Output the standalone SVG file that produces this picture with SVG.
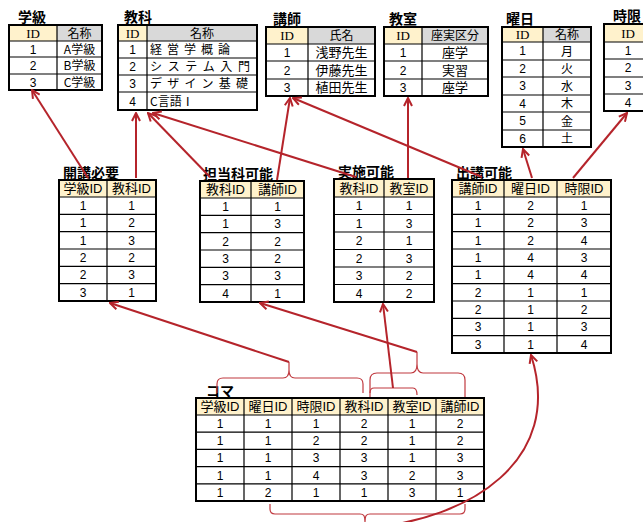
<svg xmlns="http://www.w3.org/2000/svg" width="643" height="522" viewBox="0 0 643 522">
<style>
.t{font-family:"Noto Sans CJK JP",sans-serif;font-weight:bold;font-size:14px;fill:#000}
.c{font-family:"Liberation Sans","Noto Sans CJK JP",sans-serif;font-size:12px;text-anchor:middle;fill:#000}
.j{font-family:"Noto Sans CJK JP",sans-serif;font-size:12px;fill:#000}
.jm{font-family:"Noto Sans CJK JP",sans-serif;font-size:13px;text-anchor:middle;fill:#000}
.js{font-family:"Noto Sans CJK JP",sans-serif;font-size:12px;text-anchor:middle;fill:#000}
.h{font-family:"Liberation Sans","Noto Sans CJK JP",sans-serif;font-size:13px;text-anchor:middle;fill:#000}
.id{font-family:"Liberation Serif",serif;font-size:13px;text-anchor:middle;fill:#000}
.hy{fill:#fff2cc}
.hg{fill:#d9d9d9}
.grid{fill:none;stroke:#000;stroke-width:1.2}
.box{fill:none;stroke:#000;stroke-width:2}
.conn{fill:none;stroke:#b5242b;stroke-width:2;marker-end:url(#arr)}
.brace{fill:none;stroke:#c0393f;stroke-width:1.2}
</style>
<defs>
<marker id="arr" viewBox="0 0 10 10" refX="9" refY="5" markerWidth="10" markerHeight="10" markerUnits="userSpaceOnUse" orient="auto">
<path d="M1,1 L9,5 L1,9" fill="none" stroke="#b5242b" stroke-width="2"/>
</marker>
</defs>

<g id="gakkyu">
<text class="t" x="18" y="22">学級</text>
<rect class="hy" x="9" y="25" width="48" height="16"/>
<rect class="hg" x="57" y="25" width="45" height="16"/>
<path class="grid" d="M9,41H102M9,57H102M9,74H102M57,25V90"/>
<rect class="box" x="9" y="25" width="93" height="65"/>
<text class="id" x="33" y="37.5">ID</text><text class="js" x="79.5" y="37.5">名称</text>
<text class="c" x="33" y="53.5">1</text><text class="js" x="79.5" y="53.5">A学級</text>
<text class="c" x="33" y="70">2</text><text class="js" x="79.5" y="70">B学級</text>
<text class="c" x="33" y="86.5">3</text><text class="js" x="79.5" y="86.5">C学級</text>
</g>

<g id="kyouka">
<text class="t" x="124" y="22">教科</text>
<rect class="hy" x="118" y="25" width="29" height="16"/>
<rect class="hg" x="147" y="25" width="110" height="16"/>
<path class="grid" d="M118,41H257M118,58H257M118,75H257M118,92H257M147,25V110"/>
<rect class="box" x="118" y="25" width="139" height="85"/>
<text class="id" x="132.5" y="37.5">ID</text><text class="js" x="202" y="37.5">名称</text>
<text class="c" x="132.5" y="54">1</text><text class="j" x="150" y="54" textLength="80" lengthAdjust="spacing">経営学概論</text>
<text class="c" x="132.5" y="71">2</text><text class="j" x="150" y="71" textLength="100" lengthAdjust="spacing">システム入門</text>
<text class="c" x="132.5" y="88">3</text><text class="j" x="150" y="88" textLength="98" lengthAdjust="spacing">デザイン基礎</text>
<text class="c" x="132.5" y="105.5">4</text><text class="j" x="150" y="105.5">C言語Ⅰ</text>
</g>

<g id="koushi">
<text class="t" x="273" y="24">講師</text>
<rect class="hy" x="266" y="27" width="42" height="17"/>
<rect class="hg" x="308" y="27" width="67" height="17"/>
<path class="grid" d="M266,44H375M266,61H375M266,79H375M308,27V96"/>
<rect class="box" x="266" y="27" width="109" height="69"/>
<text class="id" x="287" y="40">ID</text><text class="js" x="341.5" y="39.5">氏名</text>
<text class="c" x="287" y="57">1</text><text class="jm" x="341.5" y="57">浅野先生</text>
<text class="c" x="287" y="74.5">2</text><text class="jm" x="341.5" y="74.5">伊藤先生</text>
<text class="c" x="287" y="92">3</text><text class="jm" x="341.5" y="92">植田先生</text>
</g>

<g id="kyoushitsu">
<text class="t" x="389" y="24">教室</text>
<rect class="hy" x="384" y="27" width="38" height="17"/>
<rect class="hg" x="422" y="27" width="66" height="17"/>
<path class="grid" d="M384,44H488M384,61H488M384,79H488M422,27V96"/>
<rect class="box" x="384" y="27" width="104" height="69"/>
<text class="id" x="403" y="40">ID</text><text class="js" x="455" y="39.5">座実区分</text>
<text class="c" x="403" y="57">1</text><text class="jm" x="455" y="57">座学</text>
<text class="c" x="403" y="74.5">2</text><text class="jm" x="455" y="74.5">実習</text>
<text class="c" x="403" y="92">3</text><text class="jm" x="455" y="92">座学</text>
</g>

<g id="youbi">
<text class="t" x="506" y="24">曜日</text>
<rect class="hy" x="502" y="27" width="41" height="15"/>
<rect class="hg" x="543" y="27" width="48" height="15"/>
<path class="grid" d="M502,42H591M502,60H591M502,77H591M502,95H591M502,112H591M502,130H591M543,27V147"/>
<rect class="box" x="502" y="27" width="89" height="120"/>
<text class="id" x="522.5" y="39">ID</text><text class="js" x="567" y="38.5">名称</text>
<text class="c" x="522.5" y="55.3">1</text><text class="js" x="567" y="55.5">月</text>
<text class="c" x="522.5" y="72.8">2</text><text class="js" x="567" y="73">火</text>
<text class="c" x="522.5" y="90.3">3</text><text class="js" x="567" y="90.5">水</text>
<text class="c" x="522.5" y="107.8">4</text><text class="js" x="567" y="108">木</text>
<text class="c" x="522.5" y="125.3">5</text><text class="js" x="567" y="125.5">金</text>
<text class="c" x="522.5" y="142.8">6</text><text class="js" x="567" y="143">土</text>
</g>

<g id="jigen">
<text class="t" x="613" y="21">時限</text>
<rect class="hy" x="604" y="24" width="48" height="18"/>
<rect class="hg" x="652" y="24" width="52" height="18"/>
<path class="grid" d="M604,42H704M604,59H704M604,77H704M604,94H704M652,24V111"/>
<rect class="box" x="604" y="24" width="100" height="87"/>
<text class="id" x="628" y="37.5">ID</text>
<text class="c" x="628" y="54.8">1</text>
<text class="c" x="628" y="72.3">2</text>
<text class="c" x="628" y="89.8">3</text>
<text class="c" x="628" y="106.8">4</text>
</g>

<g id="kaikou">
<text class="t" x="63" y="178">開講必要</text>
<rect class="hy" x="59" y="180" width="97" height="17"/>
<path class="grid" d="M59,197H156M59,214.3H156M59,231.7H156M59,249H156M59,266.3H156M59,283.7H156M107,180V301"/>
<rect class="box" x="59" y="180" width="97" height="121"/>
<text class="h" x="83" y="193">学級ID</text><text class="h" x="131.5" y="193">教科ID</text>
<text class="c" x="83" y="210">1</text><text class="c" x="131.5" y="210">1</text>
<text class="c" x="83" y="227.3">1</text><text class="c" x="131.5" y="227.3">2</text>
<text class="c" x="83" y="244.6">1</text><text class="c" x="131.5" y="244.6">3</text>
<text class="c" x="83" y="262">2</text><text class="c" x="131.5" y="262">2</text>
<text class="c" x="83" y="279.3">2</text><text class="c" x="131.5" y="279.3">3</text>
<text class="c" x="83" y="296.6">3</text><text class="c" x="131.5" y="296.6">1</text>
</g>

<g id="tantou">
<text class="t" x="203" y="179">担当科可能</text>
<rect class="hy" x="200" y="181" width="104" height="17"/>
<path class="grid" d="M200,198H304M200,215.3H304M200,232.7H304M200,250H304M200,267.3H304M200,284.7H304M251,181V302"/>
<rect class="box" x="200" y="181" width="104" height="121"/>
<text class="h" x="225.5" y="194">教科ID</text><text class="h" x="277.5" y="194">講師ID</text>
<text class="c" x="225.5" y="211">1</text><text class="c" x="277.5" y="211">1</text>
<text class="c" x="225.5" y="228.3">1</text><text class="c" x="277.5" y="228.3">3</text>
<text class="c" x="225.5" y="245.6">2</text><text class="c" x="277.5" y="245.6">2</text>
<text class="c" x="225.5" y="263">3</text><text class="c" x="277.5" y="263">2</text>
<text class="c" x="225.5" y="280.3">3</text><text class="c" x="277.5" y="280.3">3</text>
<text class="c" x="225.5" y="297.6">4</text><text class="c" x="277.5" y="297.6">1</text>
</g>

<g id="jisshi">
<text class="t" x="338" y="177">実施可能</text>
<rect class="hy" x="334" y="179" width="100" height="18"/>
<path class="grid" d="M334,197H434M334,214.5H434M334,232H434M334,249.5H434M334,267H434M334,284.5H434M384,179V302"/>
<rect class="box" x="334" y="179" width="100" height="123"/>
<text class="h" x="359" y="192.5">教科ID</text><text class="h" x="409" y="192.5">教室ID</text>
<text class="c" x="359" y="210">1</text><text class="c" x="409" y="210">1</text>
<text class="c" x="359" y="227.5">1</text><text class="c" x="409" y="227.5">3</text>
<text class="c" x="359" y="245">2</text><text class="c" x="409" y="245">1</text>
<text class="c" x="359" y="262.5">2</text><text class="c" x="409" y="262.5">3</text>
<text class="c" x="359" y="280">3</text><text class="c" x="409" y="280">2</text>
<text class="c" x="359" y="297.5">4</text><text class="c" x="409" y="297.5">2</text>
</g>

<g id="shukkou">
<text class="t" x="456" y="178">出講可能</text>
<rect class="hy" x="452" y="180" width="159" height="17"/>
<path class="grid" d="M452,197H611M452,214.3H611M452,231.7H611M452,249H611M452,266.3H611M452,283.7H611M452,301H611M452,318.3H611M452,335.7H611M504,180V353M557,180V353"/>
<rect class="box" x="452" y="180" width="159" height="173"/>
<text class="h" x="478" y="193">講師ID</text><text class="h" x="530.5" y="193">曜日ID</text><text class="h" x="584" y="193">時限ID</text>
<text class="c" x="478" y="210">1</text><text class="c" x="530.5" y="210">2</text><text class="c" x="584" y="210">1</text>
<text class="c" x="478" y="227.3">1</text><text class="c" x="530.5" y="227.3">2</text><text class="c" x="584" y="227.3">3</text>
<text class="c" x="478" y="244.6">1</text><text class="c" x="530.5" y="244.6">2</text><text class="c" x="584" y="244.6">4</text>
<text class="c" x="478" y="262">1</text><text class="c" x="530.5" y="262">4</text><text class="c" x="584" y="262">3</text>
<text class="c" x="478" y="279.3">1</text><text class="c" x="530.5" y="279.3">4</text><text class="c" x="584" y="279.3">4</text>
<text class="c" x="478" y="296.6">2</text><text class="c" x="530.5" y="296.6">1</text><text class="c" x="584" y="296.6">1</text>
<text class="c" x="478" y="314">2</text><text class="c" x="530.5" y="314">1</text><text class="c" x="584" y="314">2</text>
<text class="c" x="478" y="331.3">3</text><text class="c" x="530.5" y="331.3">1</text><text class="c" x="584" y="331.3">3</text>
<text class="c" x="478" y="348.6">3</text><text class="c" x="530.5" y="348.6">1</text><text class="c" x="584" y="348.6">4</text>
</g>

<g id="koma">
<text class="t" x="206" y="396">コマ</text>
<rect class="hy" x="196" y="398" width="288" height="17"/>
<path class="grid" d="M196,415H484M196,432.2H484M196,449.4H484M196,466.6H484M196,483.8H484M244,398V501M292,398V501M340,398V501M388,398V501M436,398V501"/>
<rect class="box" x="196" y="398" width="288" height="103"/>
<text class="h" x="220" y="411">学級ID</text><text class="h" x="268" y="411">曜日ID</text><text class="h" x="316" y="411">時限ID</text><text class="h" x="364" y="411">教科ID</text><text class="h" x="412" y="411">教室ID</text><text class="h" x="460" y="411">講師ID</text>
<text class="c" x="220" y="428">1</text><text class="c" x="268" y="428">1</text><text class="c" x="316" y="428">1</text><text class="c" x="364" y="428">2</text><text class="c" x="412" y="428">1</text><text class="c" x="460" y="428">2</text>
<text class="c" x="220" y="445.1">1</text><text class="c" x="268" y="445.1">1</text><text class="c" x="316" y="445.1">2</text><text class="c" x="364" y="445.1">2</text><text class="c" x="412" y="445.1">1</text><text class="c" x="460" y="445.1">2</text>
<text class="c" x="220" y="462.3">1</text><text class="c" x="268" y="462.3">1</text><text class="c" x="316" y="462.3">3</text><text class="c" x="364" y="462.3">3</text><text class="c" x="412" y="462.3">1</text><text class="c" x="460" y="462.3">3</text>
<text class="c" x="220" y="479.5">1</text><text class="c" x="268" y="479.5">1</text><text class="c" x="316" y="479.5">4</text><text class="c" x="364" y="479.5">3</text><text class="c" x="412" y="479.5">2</text><text class="c" x="460" y="479.5">3</text>
<text class="c" x="220" y="496.7">1</text><text class="c" x="268" y="496.7">2</text><text class="c" x="316" y="496.7">1</text><text class="c" x="364" y="496.7">1</text><text class="c" x="412" y="496.7">3</text><text class="c" x="460" y="496.7">1</text>
</g>

<g id="connectors">
<path class="brace" d="M217,393 L217,384 C217,380 219,378 223,378 L283,378 C287,378 289,376 289,370 L289,362 M289,370 C289,376 291,378 295,378 L357,378 C361,378 363,380 363,384 L363,393"/>
<path class="brace" d="M370,397 L370,380 C370,375 372,373 377,373 L411,373 C415,373 417,370 417,364 L417,352 M417,364 C417,370 419,373 423,373 L458,373 C463,373 465,375 465,380 L465,397"/>
<path class="brace" d="M370,393 C370,390 371,388 374,388 L413,388 C416,388 417,390 417,395"/>
<path class="brace" d="M270,504 L270,509 C270,512 271,514 275,514 L360,514 C364,514 365,516 365,522 M365,522 C365,516 366,514 370,514 L460,514 C464,514 465,512 465,509 L465,504"/>
<path class="conn" d="M88,178 L32,90"/>
<path class="conn" d="M136,178 L136,113"/>
<path class="conn" d="M210,177 L148,113"/>
<path class="conn" d="M356,177 L153,113"/>
<path class="conn" d="M277,180 L290,98"/>
<path class="conn" d="M482,177 L293,98"/>
<path class="conn" d="M408,178 L408,98"/>
<path class="conn" d="M532,178 L523,149"/>
<path class="conn" d="M573,178 L627,113"/>
<path class="conn" d="M289,362 L110,303"/>
<path class="conn" d="M417,352 L260,303"/>
<path class="conn" d="M393,388 L383,304"/>
<path class="conn" d="M366,528 C470,520 565,460 531,355"/>
</g>
</svg>
